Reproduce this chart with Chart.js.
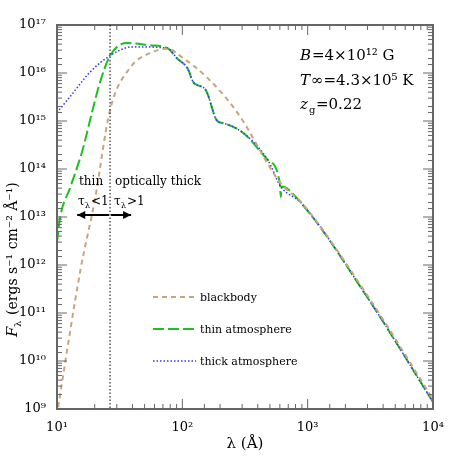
<!DOCTYPE html>
<html><head><meta charset="utf-8">
<script src="https://cdn.jsdelivr.net/npm/chart.js@4"></script>
<style>body{margin:0;background:#fff}#wrap{width:458px;height:458px}</style>
</head><body><div id="wrap"><canvas id="c"></canvas></div>
<script>
// wavelength (Å) and flux values
const BB_LAM  = [10.2, 15.4, 20, 26.5, 38.4, 55, 76, 100, 158, 275, 610, 880, 3000, 10000];
const BB_FLUX = [1.1e9, 8e11, 2.2e13, 1.7e15, 1.3e16, 2.6e16, 3.2e16, 2.1e16, 8e15, 1.5e15, 5e13, 2.1e13, 2.3e11, 1.6e9];

const THIN_LAM  = [10, 10.6, 12.7, 16, 19, 22, 26.5, 36, 55, 76, 91, 110, 123, 153, 190, 213, 307, 480, 600, 610, 620, 880, 3000, 10000];
const THIN_FLUX = [3e12, 1e13, 4e13, 2.5e14, 1.5e15, 6.3e15, 2.3e16, 4.2e16, 3.8e16, 3.3e16, 2e16, 1.25e16, 6.3e15, 4.5e15, 1e15, 9e14, 5.6e14, 1.55e14, 5e13, 2.6e13, 4.3e13, 2e13, 2.1e11, 1.4e9];

const THICK_LAM  = [10, 12.7, 18.4, 26.5, 40, 76, 91, 110, 123, 153, 190, 213, 307, 480, 610, 880, 3000, 10000];
const THICK_FLUX = [1.5e15, 3.2e15, 1.05e16, 2.3e16, 3.5e16, 3.3e16, 2e16, 1.25e16, 6.3e15, 4.5e15, 1e15, 9e14, 5.6e14, 1.55e14, 4.3e13, 2e13, 2.1e11, 1.4e9];

const BOUNDARY_LAM = 26.5;
const SUP = {'0':'⁰','1':'¹','2':'²','3':'³','4':'⁴','5':'⁵','6':'⁶','7':'⁷','8':'⁸','9':'⁹'};
const supNum = n => String(n).split('').map(c => SUP[c]).join('');

const TAN = '#c9a47c', GREEN = '#1fbf1f', BLUE = '#2b3cf0';
const FONT = '"DejaVu Serif", serif';

const pts = (xs, ys) => xs.map((x, i) => ({ x, y: ys[i] }));
const isPow10 = v => Math.abs(Math.log10(v) - Math.round(Math.log10(v))) < 1e-6;

const decor = {
  id: 'decor',
  afterDraw(chart) {
    const { ctx, chartArea: a, scales: { x, y } } = chart;
    ctx.save();
    ctx.strokeStyle = '#666'; ctx.lineWidth = 2;
    ctx.strokeRect(a.left, a.top, a.right - a.left, a.bottom - a.top);
    ctx.lineWidth = 1;
    x.ticks.forEach(t => {
      const px = x.getPixelForValue(t.value), L = isPow10(t.value) ? 10 : 5;
      ctx.beginPath();
      ctx.moveTo(px, a.bottom); ctx.lineTo(px, a.bottom - L);
      ctx.moveTo(px, a.top); ctx.lineTo(px, a.top + L);
      ctx.stroke();
    });
    y.ticks.forEach(t => {
      const py = y.getPixelForValue(t.value), L = isPow10(t.value) ? 10 : 5;
      ctx.beginPath();
      ctx.moveTo(a.left, py); ctx.lineTo(a.left + L, py);
      ctx.moveTo(a.right, py); ctx.lineTo(a.right - L, py);
      ctx.stroke();
    });
    // optical depth boundary
    const bx = x.getPixelForValue(BOUNDARY_LAM);
    ctx.strokeStyle = '#000'; ctx.setLineDash([1.5, 2]);
    ctx.beginPath(); ctx.moveTo(bx, a.top); ctx.lineTo(bx, a.bottom); ctx.stroke();
    ctx.setLineDash([]);
    // arrows
    const ay = y.getPixelForValue(1.1e13);
    ctx.lineWidth = 2;
    const arrow = (x0, x1) => {
      ctx.beginPath(); ctx.moveTo(x0, ay); ctx.lineTo(x1, ay); ctx.stroke();
      const d = Math.sign(x1 - x0);
      ctx.beginPath(); ctx.moveTo(x1, ay); ctx.lineTo(x1 - d * 8, ay - 4); ctx.lineTo(x1 - d * 8, ay + 4); ctx.closePath(); ctx.fill();
    };
    ctx.fillStyle = '#000';
    arrow(bx - 1, x.getPixelForValue(14.5));
    arrow(bx + 1, x.getPixelForValue(39));
    ctx.font = '12px ' + FONT; ctx.textBaseline = 'alphabetic';
    ctx.fillText('thin', 79, 185);
    ctx.fillText('optically thick', 115, 185);
    ctx.fillText('τ', 78, 205); ctx.font = '8px ' + FONT; ctx.fillText('λ', 85, 208);
    ctx.font = '12px ' + FONT; ctx.fillText('<1', 91, 205);
    ctx.fillText('τ', 114, 205); ctx.font = '8px ' + FONT; ctx.fillText('λ', 121, 208);
    ctx.font = '12px ' + FONT; ctx.fillText('>1', 127, 205);
    // parameters
    ctx.font = 'italic 15px ' + FONT; ctx.fillText('B', 300, 60);
    ctx.font = '15px ' + FONT; ctx.fillText('=4×10¹² G', 312, 60);
    ctx.font = 'italic 15px ' + FONT; ctx.fillText('T', 300, 85);
    ctx.font = '15px ' + FONT; ctx.fillText('∞=4.3×10⁵ K', 311, 85);
    ctx.font = 'italic 15px ' + FONT; ctx.fillText('z', 300, 109);
    ctx.font = '10px ' + FONT; ctx.fillText('g', 309, 113);
    ctx.font = '15px ' + FONT; ctx.fillText('=0.22', 316, 109);
    // legend
    const legend = [['blackbody', TAN, [5, 4], 2], ['thin atmosphere', GREEN, [11, 4], 2], ['thick atmosphere', BLUE, [1.5, 2], 1.5]];
    legend.forEach(([txt, col, dash, w], i) => {
      const ly = 297 + i * 32;
      ctx.strokeStyle = col; ctx.lineWidth = w; ctx.setLineDash(dash);
      ctx.beginPath(); ctx.moveTo(153, ly); ctx.lineTo(196, ly); ctx.stroke();
      ctx.setLineDash([]); ctx.fillStyle = '#000'; ctx.font = '11px ' + FONT;
      ctx.fillText(txt, 200, ly + 4);
    });
    // axis titles
    ctx.font = '15px ' + FONT; ctx.textAlign = 'center';
    ctx.fillText('λ (Å)', (a.left + a.right) / 2, 448);
    ctx.translate(17, (a.top + a.bottom) / 2); ctx.rotate(-Math.PI / 2);
    ctx.textAlign = 'left';
    ctx.font = 'italic 15px ' + FONT; ctx.fillText('F', -120, 0);
    ctx.font = '10px ' + FONT; ctx.fillText('λ', -110, 4);
    ctx.font = '14px ' + FONT; ctx.fillText('(ergs s⁻¹ cm⁻² Å⁻¹)', -98, 0);
    ctx.restore();
  }
};

const tickLabel = v => isPow10(v) ? '10' + supNum(Math.round(Math.log10(v))) : '';

new Chart(document.getElementById('c'), {
  type: 'line',
  data: {
    datasets: [
      { data: pts(BB_LAM, BB_FLUX), borderColor: TAN, borderWidth: 2, borderDash: [5, 4], cubicInterpolationMode: 'monotone' },
      { data: pts(THICK_LAM, THICK_FLUX), borderColor: BLUE, borderWidth: 1.5, borderDash: [1.5, 2], cubicInterpolationMode: 'monotone' },
      { data: pts(THIN_LAM, THIN_FLUX), borderColor: GREEN, borderWidth: 2, borderDash: [11, 4], cubicInterpolationMode: 'monotone' },
    ],
  },
  options: {
    responsive: true, maintainAspectRatio: false, animation: false,
    layout: { padding: { left: 0, right: 25, top: 25, bottom: 0 } },
    elements: { point: { radius: 0 } },
    plugins: { legend: { display: false }, tooltip: { enabled: false } },
    scales: {
      x: {
        type: 'logarithmic', min: 10, max: 1e4,
        grid: { display: false }, border: { display: false },
        ticks: { autoSkip: false, maxRotation: 0, color: '#000', font: { family: FONT, size: 13 }, callback: tickLabel },
        afterFit: s => { s.height = 49; },
      },
      y: {
        type: 'logarithmic', min: 1e9, max: 1e17,
        grid: { display: false }, border: { display: false },
        ticks: { autoSkip: false, color: '#000', font: { family: FONT, size: 13 }, callback: tickLabel },
        afterFit: s => { s.width = 57; },
      },
    },
  },
  plugins: [decor],
});
</script></body></html>
